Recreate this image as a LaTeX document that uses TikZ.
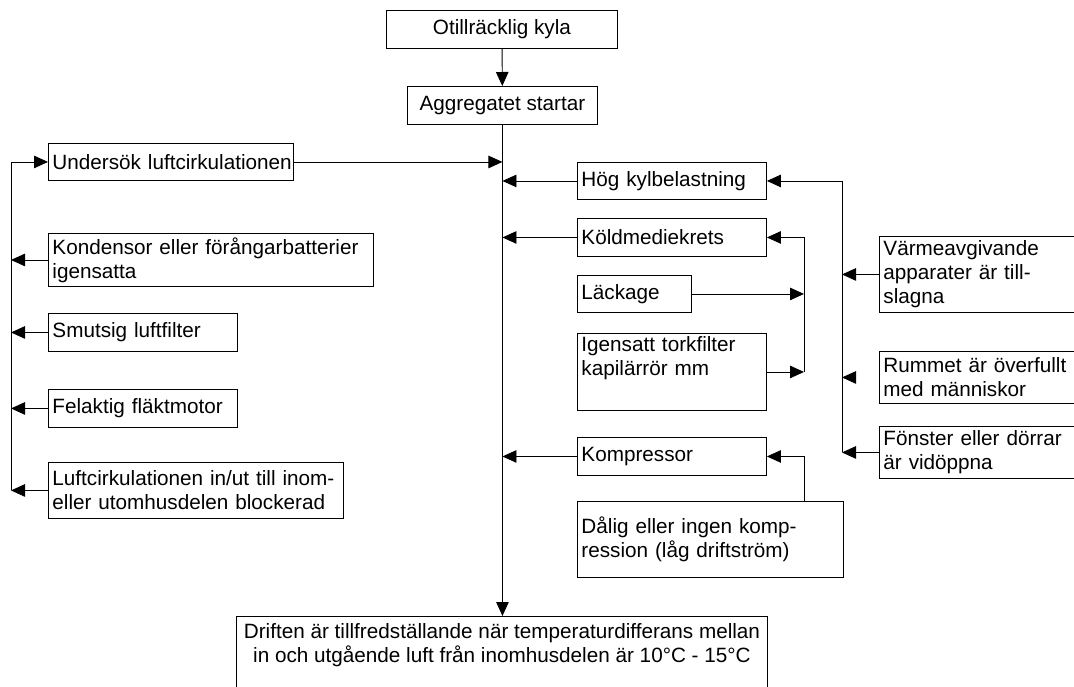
\documentclass[tikz,border=0pt]{standalone}
\usepackage{fontspec}
\setmainfont{Liberation Sans}
\usetikzlibrary{arrows.meta}
\hyphenpenalty=10000
\hbadness=10000
\hfuzz=100pt
\newcommand\Ln[1]{\mbox{#1}}
\tikzset{
  box/.style={draw=black, line width=0.9pt, rectangle, anchor=north west, inner xsep=4pt, inner ysep=2pt, align=left, font=\fontsize{20.7}{24}\selectfont},
  cbox/.style={box, align=center},
  arr/.style={line width=0.9pt, -{Triangle[length=14pt,width=12.5pt]}},
  ln/.style={line width=0.9pt}
}
\begin{document}
\begin{tikzpicture}[x=1pt,y=-1pt]
\clip (0,0) rectangle (1074,686);
\fill[white] (0,0) rectangle (1074,686);
\coordinate (vl) at (11,0);
\coordinate (v2) at (804,0);
\coordinate (vr) at (842,0);

\node[cbox, minimum width=231pt, minimum height=38pt] (oti) at (386,10) {Otillräcklig kyla};
\node[cbox, minimum width=190pt, minimum height=38pt] (agg) at (407,86) {Aggregatet startar};

\node[box, text width=237pt, minimum height=37pt] (und) at (48,143) {\Ln{Undersök luftcirkulationen}};
\node[box, text width=317pt, minimum height=53pt] (kon) at (48,233) {\Ln{Kondensor eller förångarbatterier}\\igensatta};
\node[box, text width=181pt, minimum height=38pt] (smu) at (48,313) {\Ln{Smutsig luftfilter}};
\node[box, text width=181pt, minimum height=38pt] (fel) at (48,389) {\Ln{Felaktig fläktmotor}};
\node[box, text width=287pt, minimum height=56pt] (luf) at (48,462) {\Ln{Luftcirkulationen in/ut till inom-}\\\Ln{eller utomhusdelen blockerad}};

\node[box, text width=181pt, minimum height=37pt] (hog) at (577,162) {\Ln{Hög kylbelastning}};
\node[box, text width=181pt, minimum height=38pt] (kol) at (577,218) {\Ln{Köldmediekrets}};
\node[box, text width=106pt, minimum height=37pt] (lac) at (577,275) {\Ln{Läckage}};
\node[box, text width=181pt, minimum height=77pt] (ige) at (577,333) {\Ln{Igensatt torkfilter}\\\Ln{kapilärrör mm}\\\strut};
\node[box, text width=181pt, minimum height=38pt] (kom) at (577,437) {\Ln{Kompressor}};
\node[box, text width=258pt, minimum height=76pt] (dal) at (577,501) {\Ln{Dålig eller ingen komp-}\\\Ln{ression (låg driftström)}};

\node[box, text width=192pt, minimum height=76pt] (var) at (879,236) {\Ln{Värmeavgivande}\\\Ln{apparater är till-}\\\Ln{slagna}};
\node[box, text width=192pt, minimum height=52pt] (rum) at (879,351) {\Ln{Rummet är överfullt}\\\Ln{med människor}};
\node[box, text width=192pt, minimum height=52pt] (fon) at (879,426) {\Ln{Fönster eller dörrar}\\\Ln{är vidöppna}};

\node[draw=black, line width=0.9pt, anchor=north west, minimum width=531pt, minimum height=84pt] (dri) at (236,616) {};
\node[anchor=north, align=center, inner sep=0pt, font=\fontsize{20.7}{24}\selectfont] (drit) at ([yshift=-7pt]dri.north) {Driften är tillfredställande när temperaturdifferans mellan\\in och utgående luft från inomhusdelen är 10°C - 15°C};

% main spine
\draw[arr] (oti) -- (agg);
\draw[arr] (agg) -- (dri.north -| agg.south);
\draw[arr] (und.east) -- (und.east -| agg.south);
\draw[arr] (hog.west) -- (hog.west -| agg.south);
\draw[arr] (kol.west) -- (kol.west -| agg.south);
\draw[arr] (kom.west) -- (kom.west -| agg.south);

% left column
\draw[arr] (kon.west) -- (kon.west -| vl);
\draw[arr] (smu.west) -- (smu.west -| vl);
\draw[arr] (fel.west) -- (fel.west -| vl);
\draw[arr] (luf.west) -- (luf.west -| vl);
\draw[arr] (luf.west -| vl) |- (und.west);

% refrigerant circuit
\draw[arr] (lac.east) -- (lac.east -| v2);
\draw[arr] (ige.east) -- (ige.east -| v2);
\draw[arr] (ige.east -| v2) |- (kol.east);
\draw[arr] (dal.north -| v2) |- (kom.east);

% cooling load
\draw[arr] (var.west) -- (var.west -| vr);
\coordinate (rumtip) at ([xshift=-24pt]rum.west);
\draw[arr] (rumtip) -- (rum.west -| vr);
\draw[arr] (fon.west) -- (fon.west -| vr);
\draw[arr] (fon.west -| vr) |- (hog.east);
\end{tikzpicture}
\end{document}
